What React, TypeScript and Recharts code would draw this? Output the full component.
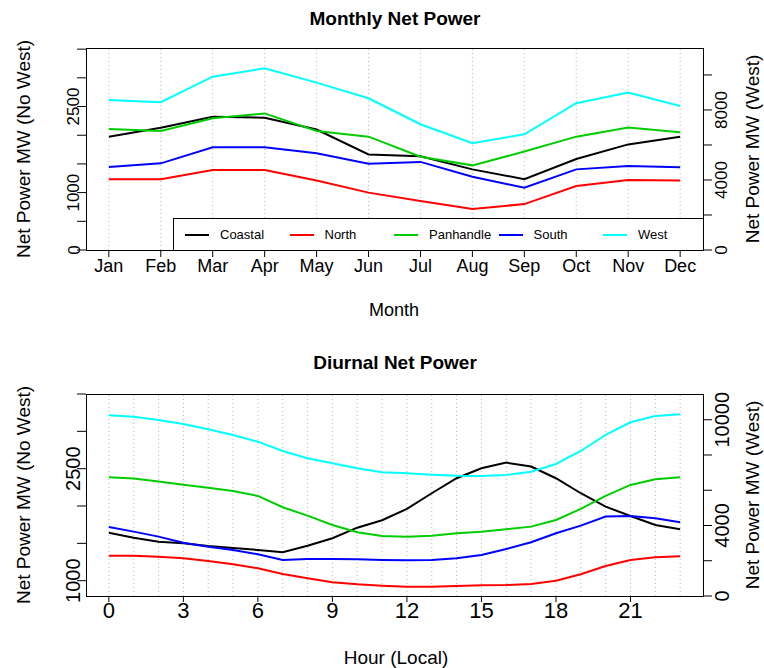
import React from 'react';
import { LineChart, Line, XAxis, YAxis, ReferenceLine } from 'recharts';

const months = ['Jan', 'Feb', 'Mar', 'Apr', 'May', 'Jun', 'Jul', 'Aug', 'Sep', 'Oct', 'Nov', 'Dec'];
const monthNumbers = [1, 2, 3, 4, 5, 6, 7, 8, 9, 10, 11, 12];
const coastalMonthly = [1975, 2130, 2320, 2305, 2100, 1665, 1635, 1405, 1235, 1585, 1840, 1975];
const northMonthly = [1235, 1235, 1395, 1395, 1210, 1000, 855, 715, 800, 1115, 1220, 1210];
const panhandleMonthly = [2110, 2075, 2295, 2380, 2075, 1975, 1625, 1475, 1715, 1975, 2135, 2050];
const southMonthly = [1445, 1510, 1790, 1790, 1685, 1505, 1535, 1275, 1085, 1405, 1465, 1440];
const westMonthly = [8570, 8440, 9900, 10380, 9560, 8670, 7185, 6100, 6610, 8385, 8990, 8230];

const hours = [0, 1, 2, 3, 4, 5, 6, 7, 8, 9, 10, 11, 12, 13, 14, 15, 16, 17, 18, 19, 20, 21, 22, 23];
const hourTicks = [0, 3, 6, 9, 12, 15, 18, 21];
const coastalHourly = [1643, 1576, 1523, 1501, 1465, 1438, 1411, 1380, 1469, 1568, 1710, 1810, 1961, 2171, 2372, 2506, 2581, 2528, 2372, 2171, 1992, 1867, 1746, 1689];
const northHourly = [1335, 1335, 1322, 1300, 1264, 1220, 1166, 1090, 1032, 979, 952, 933, 920, 920, 929, 938, 942, 956, 1000, 1086, 1197, 1277, 1314, 1327];
const panhandleHourly = [2386, 2367, 2327, 2286, 2246, 2202, 2135, 1983, 1871, 1746, 1649, 1599, 1590, 1603, 1635, 1657, 1689, 1724, 1813, 1961, 2135, 2282, 2359, 2386];
const southHourly = [1719, 1657, 1590, 1509, 1456, 1411, 1354, 1277, 1291, 1291, 1287, 1277, 1273, 1277, 1300, 1344, 1425, 1514, 1635, 1737, 1858, 1867, 1836, 1783];
const westHourly = [10253, 10174, 9986, 9759, 9458, 9135, 8755, 8227, 7813, 7529, 7246, 7019, 6962, 6883, 6826, 6809, 6866, 7053, 7490, 8227, 9135, 9856, 10213, 10310];

const seriesNames = ['Coastal', 'North', 'Panhandle', 'South', 'West'];
const seriesColors = ['#000000', '#ff0000', '#00cd00', '#0000ff', '#00ffff'];

const monthlyLeftTicks = [0, 500, 1000, 1500, 2000, 2500, 3000, 3500];
const monthlyLeftLabels = [0, 1000, 2500];
const monthlyRightTicks = [0, 2000, 4000, 6000, 8000, 10000];
const monthlyRightLabels = [0, 4000, 8000];
const hourlyLeftTicks = [1000, 1500, 2000, 2500, 3000, 3500];
const hourlyLeftLabels = [1000, 2500];
const hourlyRightTicks = [0, 2000, 4000, 6000, 8000, 10000];
const hourlyRightLabels = [0, 4000, 10000];

const monthlyData = monthNumbers.map((m, i) => ({
  x: m,
  Coastal: coastalMonthly[i],
  North: northMonthly[i],
  Panhandle: panhandleMonthly[i],
  South: southMonthly[i],
  West: westMonthly[i],
}));

const hourlyData = hours.map((h, i) => ({
  x: h,
  Coastal: coastalHourly[i],
  North: northHourly[i],
  Panhandle: panhandleHourly[i],
  South: southHourly[i],
  West: westHourly[i],
}));

const FONT = '"Liberation Sans", Arial, Helvetica, sans-serif';

const RotTick = (props: any) => {
  const { x, y, payload, labels, dx, fontSize } = props;
  if (!labels.includes(payload.value)) return <g />;
  const tx = x + dx;
  return (
    <text
      x={tx}
      y={y}
      transform={`rotate(-90, ${tx}, ${y})`}
      textAnchor="middle"
      fontSize={fontSize}
      fontFamily={FONT}
      fill="#000"
    >
      {payload.value}
    </text>
  );
};

const PLOT_LEFT = 86;
const PLOT_RIGHT = 703;

const Box = ({ top, bottom }: { top: number; bottom: number }) => (
  <div
    style={{
      position: 'absolute',
      left: PLOT_LEFT,
      top: top,
      width: PLOT_RIGHT - PLOT_LEFT + 1,
      height: bottom - top + 1,
      border: '1px solid #000',
      boxSizing: 'border-box',
      pointerEvents: 'none',
    }}
  />
);

const TextAt = ({ x, y, size, bold, rotate, children }: any) => (
  <div
    style={{
      position: 'absolute',
      left: x,
      top: y,
      transform: `translate(-50%, -50%)${rotate ? ' rotate(-90deg)' : ''}`,
      fontFamily: FONT,
      fontSize: size,
      fontWeight: bold ? 'bold' : 'normal',
      whiteSpace: 'nowrap',
      lineHeight: 1,
      color: '#000',
    }}
  >
    {children}
  </div>
);

const LegendBox = () => (
  <div
    style={{
      position: 'absolute',
      left: 173,
      top: 218,
      width: PLOT_RIGHT - 173 + 1,
      height: 33,
      border: '1px solid #000',
      boxSizing: 'border-box',
      background: '#fff',
      fontFamily: FONT,
      fontSize: 13,
    }}
  >
    {seriesNames.map((name, i) => (
      <React.Fragment key={name}>
        <div
          style={{
            position: 'absolute',
            left: 11 + i * 104.5,
            top: 15,
            width: 24,
            height: 2,
            background: seriesColors[i],
          }}
        />
        <div
          style={{
            position: 'absolute',
            left: 46 + i * 104.5,
            top: 9,
            lineHeight: '14px',
            whiteSpace: 'nowrap',
          }}
        >
          {name}
        </div>
      </React.Fragment>
    ))}
  </div>
);

export default function App() {
  return (
    <div style={{ position: 'absolute', left: 0, top: 0, width: 764, height: 668, background: '#fff', overflow: 'hidden' }}>
      {/* Top chart */}
      <div style={{ position: 'absolute', left: 0, top: 0 }}>
        <LineChart
          width={764}
          height={334}
          data={monthlyData}
          margin={{ top: 48, left: 26, right: 11, bottom: 44 }}
        >
          <XAxis
            dataKey="x"
            type="number"
            domain={[0.56, 12.44]}
            ticks={monthNumbers}
            tickFormatter={(v: number) => months[v - 1]}
            tickSize={7}
            tickMargin={2}
            height={40}
            axisLine={false}
            tickLine={{ stroke: '#000' }}
            tick={{ fontSize: 18, fill: '#000', fontFamily: FONT }}
            interval={0}
          />
          <YAxis
            yAxisId="left"
            domain={[0, 3520]}
            ticks={monthlyLeftTicks}
            width={60}
            tickSize={9}
            tickMargin={0}
            axisLine={false}
            tickLine={{ stroke: '#000' }}
            interval={0}
            tick={(p: any) => <RotTick {...p} labels={monthlyLeftLabels} dx={2.5} fontSize={17} />}
          />
          <YAxis
            yAxisId="right"
            orientation="right"
            domain={[0, 11540]}
            ticks={monthlyRightTicks}
            width={50}
            tickSize={9}
            tickMargin={0}
            axisLine={false}
            tickLine={{ stroke: '#000' }}
            interval={0}
            tick={(p: any) => <RotTick {...p} labels={monthlyRightLabels} dx={15} fontSize={17} />}
          />
          {monthNumbers.map((m) => (
            <ReferenceLine key={m} x={m} yAxisId="left" stroke="#b5b5b5" strokeDasharray="1 3" />
          ))}
          {seriesNames.map((name, i) => (
            <Line
              key={name}
              yAxisId={name === 'West' ? 'right' : 'left'}
              dataKey={name}
              type="linear"
              stroke={seriesColors[i]}
              strokeWidth={2}
              dot={false}
              isAnimationActive={false}
            />
          ))}
        </LineChart>
      </div>
      <Box top={48} bottom={250} />
      <LegendBox />
      <TextAt x={395} y={18} size={19} bold>Monthly Net Power</TextAt>
      <TextAt x={394} y={310} size={18}>Month</TextAt>
      <TextAt x={23} y={149} size={19} rotate>Net Power MW (No West)</TextAt>
      <TextAt x={752} y={149} size={19} rotate>Net Power MW (West)</TextAt>

      {/* Bottom chart */}
      <div style={{ position: 'absolute', left: 0, top: 334 }}>
        <LineChart
          width={764}
          height={334}
          data={hourlyData}
          margin={{ top: 60, left: 26, right: 11, bottom: 32 }}
        >
          <XAxis
            dataKey="x"
            type="number"
            domain={[-0.92, 23.92]}
            ticks={hourTicks}
            tickSize={6}
            tickMargin={0}
            height={40}
            axisLine={false}
            tickLine={{ stroke: '#000' }}
            tick={{ fontSize: 22, fill: '#000', fontFamily: FONT }}
            interval={0}
          />
          <YAxis
            yAxisId="left"
            domain={[795, 3500]}
            ticks={hourlyLeftTicks}
            width={60}
            tickSize={9}
            tickMargin={0}
            axisLine={false}
            tickLine={{ stroke: '#000' }}
            interval={0}
            tick={(p: any) => <RotTick {...p} labels={hourlyLeftLabels} dx={3.5} fontSize={20} />}
          />
          <YAxis
            yAxisId="right"
            orientation="right"
            domain={[0, 11460]}
            ticks={hourlyRightTicks}
            width={50}
            tickSize={9}
            tickMargin={0}
            axisLine={false}
            tickLine={{ stroke: '#000' }}
            interval={0}
            tick={(p: any) => <RotTick {...p} labels={hourlyRightLabels} dx={17} fontSize={20} />}
          />
          {hours.map((h) => (
            <ReferenceLine key={h} x={h} yAxisId="left" stroke="#b5b5b5" strokeDasharray="1 3" />
          ))}
          {seriesNames.map((name, i) => (
            <Line
              key={name}
              yAxisId={name === 'West' ? 'right' : 'left'}
              dataKey={name}
              type="linear"
              stroke={seriesColors[i]}
              strokeWidth={2}
              dot={false}
              isAnimationActive={false}
            />
          ))}
        </LineChart>
      </div>
      <Box top={394} bottom={596} />
      <TextAt x={395} y={362} size={19} bold>Diurnal Net Power</TextAt>
      <TextAt x={396} y={657} size={19}>Hour (Local)</TextAt>
      <TextAt x={23} y={495} size={19} rotate>Net Power MW (No West)</TextAt>
      <TextAt x={752} y={495} size={19} rotate>Net Power MW (West)</TextAt>
    </div>
  );
}
